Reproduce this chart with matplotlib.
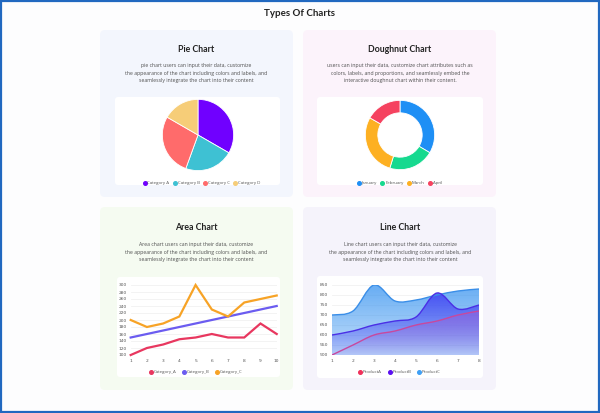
import numpy as np
import matplotlib.pyplot as plt
from matplotlib.patches import FancyBboxPatch, PathPatch, Rectangle
from matplotlib.path import Path
from matplotlib.lines import Line2D
from matplotlib.colors import to_rgb

W, H = 600, 413

# pie chart data
pie_labels = ['Category A', 'Category B', 'Category C', 'Category D']
pie_values = [300, 200, 250, 150]
pie_colors = ['#7000ff', '#3ec1d3', '#ff6b6b', '#f6cd78']

# doughnut chart data
dn_labels = ['January', 'February', 'March', 'April']
dn_values = [300, 190, 255, 150]
dn_colors = ['#1e8ff5', '#16d98f', '#fdb022', '#f5425f']

# area chart data
area_x = [1, 2, 3, 4, 5, 6, 7, 8, 9, 10]
area_a = [100, 120, 130, 145, 150, 160, 150, 150, 190, 160]
area_b = [150, 160, 170, 180, 190, 200, 210, 220, 230, 240]
area_c = [200, 180, 190, 210, 300, 230, 210, 250, 260, 270]
area_labels = ['Category_A', 'Category_B', 'Category_C']
area_colors = ['#e8375f', '#6b5cf0', '#f7a326']
area_yticks = [100, 120, 140, 160, 180, 200, 220, 240, 260, 280, 300]

# line chart data
line_x = [1, 2, 3, 4, 5, 6, 7, 8]
prod_a = [500, 550, 600, 620, 650, 670, 700, 720]
prod_b = [600, 620, 650, 670, 690, 810, 730, 750]
prod_c = [700, 720, 850, 770, 775, 800, 820, 830]
line_labels = ['ProductA', 'ProductB', 'ProductC']
line_colors = ['#f0305a', '#5a0ff0', '#3fa0f5']
line_yticks = [500, 550, 600, 650, 700, 750, 800, 850]

pie_text = ("pie chart users can input their data, customize\n"
            "the appearance of the chart including colors and labels, and\n"
            "seamlessly integrate the chart into their content")
dn_text = ("users can input their data, customize chart attributes such as\n"
           "colors, labels, and proportions, and seamlessly embed the\n"
           "interactive doughnut chart within their content.")
area_text = ("Area chart users can input their data, customize\n"
             "the appearance of the chart including colors and labels, and\n"
             "seamlessly integrate the chart into their content")
line_text = ("Line chart users can input their data, customize\n"
             "the appearance of the chart including colors and labels, and\n"
             "seamlessly integrate the chart into their content")

TITLE_FONT = 'Lato'
BODY_FONT = 'Open Sans'


def frect(x0, y0, x1, y1):
    # pixel box -> figure fraction rect
    return [x0 / W, 1 - y1 / H, (x1 - x0) / W, (y1 - y0) / H]


def box(x0, y0, x1, y1, color, z, r=0.05):
    p = FancyBboxPatch((x0 / 100, (H - y1) / 100), (x1 - x0) / 100, (y1 - y0) / 100,
                       boxstyle='round,pad=0,rounding_size=%s' % r,
                       transform=fig.dpi_scale_trans, facecolor=color,
                       edgecolor='none', zorder=z)
    fig.add_artist(p)


def text(x, y, s, **kw):
    fig.text(x / W, 1 - y / H, s, ha='center', va='center', **kw)


def legend(x, y, labels, colors, spacing=1.0):
    handles = [Line2D([], [], marker='o', ls='', color=c, markersize=2.6) for c in colors]
    fig.legend(handles, labels, loc='center', bbox_to_anchor=(x / W, 1 - y / H),
               ncol=len(labels), frameon=False, handlelength=0.5, handletextpad=0.35,
               columnspacing=spacing, prop={'family': BODY_FONT, 'size': 3.2},
               labelcolor='#555555')


def smooth_path(xs, ys, base):
    # bezier curve through the points (catmull-rom control points)
    pts = list(zip(xs, ys))
    verts = [pts[0]]
    codes = [Path.MOVETO]
    n = len(pts)
    for i in range(n - 1):
        p0 = pts[max(i - 1, 0)]
        p1 = pts[i]
        p2 = pts[i + 1]
        p3 = pts[min(i + 2, n - 1)]
        c1 = (p1[0] + (p2[0] - p0[0]) / 6, p1[1] + (p2[1] - p0[1]) / 6)
        c2 = (p2[0] - (p3[0] - p1[0]) / 6, p2[1] - (p3[1] - p1[1]) / 6)
        verts += [c1, c2, p2]
        codes += [Path.CURVE4] * 3
    line = Path(verts, codes)
    area = Path(verts + [(xs[-1], base), (xs[0], base), pts[0]],
                codes + [Path.LINETO, Path.LINETO, Path.CLOSEPOLY])
    return line, area


fig = plt.figure(figsize=(W / 100, H / 100), dpi=100)
fig.patch.set_facecolor('#fdfdfe')

# outer blue border
fig.add_artist(Rectangle((0.001, 0.0015), 0.998, 0.997, transform=fig.transFigure,
                         facecolor='none', edgecolor='#2168c0', linewidth=1.6, zorder=5))

text(300, 13, 'Types Of Charts', family=TITLE_FONT, fontweight='bold', fontsize=7.0, color='#222222')

# panels
box(100, 30, 293, 197, '#f3f6fd', -3)
box(303, 30, 496, 197, '#fcf3fb', -3)
box(100, 207, 293, 390, '#f5fbf1', -3)
box(303, 207, 496, 390, '#f5f3fb', -3)

# white chart boxes
box(115, 97, 280, 185, 'white', -2, r=0.03)
box(317, 97, 483, 185, 'white', -2, r=0.03)
box(117, 277, 280, 377, 'white', -2, r=0.03)
box(317, 276, 483, 378, 'white', -2, r=0.03)

# titles and descriptions
for cx, ty, dy, title, desc in [(196, 49, 73, 'Pie Chart', pie_text),
                                 (400, 49, 73, 'Doughnut Chart', dn_text),
                                 (196, 228, 252, 'Area Chart', area_text),
                                 (400, 228, 252, 'Line Chart', line_text)]:
    text(cx, ty, title, family=TITLE_FONT, fontweight='bold', fontsize=6.3, color='#222222')
    text(cx, dy, desc, family=BODY_FONT, fontsize=3.7, color='#505050', linespacing=1.55)

# pie chart
ax = fig.add_axes(frect(162, 99, 234, 171))
ax.pie(pie_values, colors=pie_colors, startangle=90, counterclock=False,
       wedgeprops=dict(edgecolor='white', linewidth=0.6))
ax.set_xlim(-1.01, 1.01)
ax.set_ylim(-1.01, 1.01)
ax.set_aspect('equal')
legend(202, 183, pie_labels, pie_colors)

# doughnut chart
ax = fig.add_axes(frect(365, 100, 435, 170))
ax.pie(dn_values, colors=dn_colors, startangle=90, counterclock=False,
       wedgeprops=dict(width=0.36, edgecolor='white', linewidth=0.6))
ax.set_xlim(-1.01, 1.01)
ax.set_ylim(-1.01, 1.01)
ax.set_aspect('equal')
legend(400, 183, dn_labels, dn_colors)

# area chart
ax = fig.add_axes(frect(130.7, 285, 276.7, 355))
ax.set_facecolor('none')
for ys, c in zip([area_a, area_b, area_c], area_colors):
    ax.plot(area_x, ys, color=c, linewidth=1.6, clip_on=False, solid_joinstyle='miter')
ax.set_xlim(1, 10)
ax.set_ylim(100, 300)
ax.set_yticks(area_yticks)
ax.set_xticks(area_x)
ax.grid(axis='y', color='#eeeeee', linewidth=0.5)
ax.set_axisbelow(True)
for s in ax.spines.values():
    s.set_visible(False)
ax.tick_params(length=0, labelsize=3.2, labelcolor='#555555', pad=3)
legend(196, 372, area_labels, area_colors, spacing=1.5)

# line chart (smooth stacked fills)
ax = fig.add_axes(frect(332, 285, 479, 355))
ax.set_facecolor('none')
base = 500
fills = [(prod_c, '#3592f0', 0.75, 0.30, '#3a8ee8'),
         (prod_b, '#3a2ff2', 0.72, 0.10, '#4a2fe6'),
         (prod_a, '#9462da', 0.62, 0.06, '#c8489e')]
for i, (ys, fc, a_top, a_bot, lc) in enumerate(fills):
    line, area = smooth_path(line_x, ys, base)
    patch = PathPatch(area, facecolor='none', edgecolor='none')
    ax.add_patch(patch)
    grad = np.zeros((100, 1, 4))
    grad[:, 0, :3] = to_rgb(fc)
    grad[:, 0, 3] = np.linspace(a_bot, a_top, 100)
    im = ax.imshow(grad, extent=[line_x[0], line_x[-1], base, max(ys)], origin='lower',
                   aspect='auto', zorder=2 + i)
    im.set_clip_path(patch)
    ax.add_patch(PathPatch(line, facecolor='none', edgecolor=lc, linewidth=1.0, zorder=5 + i))
ax.set_xlim(1, 8)
ax.set_ylim(500, 850)
ax.set_yticks(line_yticks)
ax.set_xticks(line_x)
ax.grid(axis='y', color='#eeeeee', linewidth=0.5)
ax.set_axisbelow(True)
for s in ax.spines.values():
    s.set_visible(False)
ax.tick_params(length=0, labelsize=3.2, labelcolor='#555555', pad=3)
legend(400, 372, line_labels, line_colors, spacing=1.5)

fig.savefig('out.png', dpi=100)
